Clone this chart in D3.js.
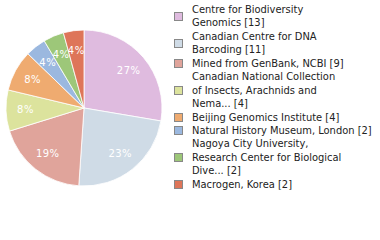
<!DOCTYPE html>
<html>
<head>
<meta charset="utf-8">
<script src="https://cdn.jsdelivr.net/npm/d3@7"></script>
<style>
  body { margin: 0; background: #fff; }
  svg { display: block; }
</style>
</head>
<body>
<svg width="380" height="240"></svg>
<script>
// data
var institutions = ["Centre for Biodiversity Genomics", "Canadian Centre for DNA Barcoding",
  "Mined from GenBank, NCBI", "Canadian National Collection of Insects, Arachnids and Nematodes",
  "Beijing Genomics Institute", "Natural History Museum, London",
  "Nagoya City University, Research Center for Biological Diversity", "Macrogen, Korea"];
var counts = [13, 11, 9, 4, 4, 2, 2, 2];
var legendLines = [
  ["Centre for Biodiversity", "Genomics [13]"],
  ["Canadian Centre for DNA", "Barcoding [11]"],
  ["Mined from GenBank, NCBI [9]"],
  ["Canadian National Collection", "of Insects, Arachnids and", "Nema... [4]"],
  ["Beijing Genomics Institute [4]"],
  ["Natural History Museum, London [2]"],
  ["Nagoya City University,", "Research Center for Biological", "Dive... [2]"],
  ["Macrogen, Korea [2]"]
];
var colors = ["#dfbbdf", "#cfdbe6", "#e0a49b", "#dce39d", "#efab70", "#9bb8df", "#9dc779", "#de7559"];

var svg = d3.select("svg");
var cx = 84, cy = 108, radius = 78;

var total = d3.sum(counts);
var color = d3.scaleOrdinal().domain(institutions).range(colors);

var pie = d3.pie().sort(null).value(function(d) { return d.count; });
var data = institutions.map(function(name, i) { return { name: name, count: counts[i], lines: legendLines[i] }; });
var arcs = pie(data);

var arc = d3.arc().innerRadius(0).outerRadius(radius);
var labelArc = d3.arc().innerRadius(radius * 0.75).outerRadius(radius * 0.75);

var g = svg.append("g").attr("transform", "translate(" + cx + "," + cy + ")");

g.selectAll("path")
  .data(arcs)
  .enter().append("path")
    .attr("d", arc)
    .attr("fill", function(d) { return color(d.data.name); })
    .attr("stroke", "#fff")
    .attr("stroke-width", 0.8);

// percent labels
g.selectAll("text")
  .data(arcs)
  .enter().append("text")
    .attr("transform", function(d) { return "translate(" + labelArc.centroid(d) + ")"; })
    .attr("dy", "0.35em")
    .attr("text-anchor", "middle")
    .attr("font-family", "DejaVu Sans")
    .attr("font-size", 10)
    .attr("letter-spacing", 0.5)
    .attr("fill", "#fff")
    .text(function(d) { return Math.floor(d.data.count / total * 100) + "%"; });

// legend
var lineH = 13.46;
var legend = svg.append("g").attr("transform", "translate(174,0)");
var y = 9;
data.forEach(function(d) {
  var n = d.lines.length;
  var mid = y + (n - 1) * lineH / 2;
  legend.append("rect")
    .attr("x", 0.5).attr("y", Math.round(mid - 4) + 0.5)
    .attr("width", 8).attr("height", 8)
    .attr("fill", color(d.name))
    .attr("stroke", "#888");
  d.lines.forEach(function(t, j) {
    legend.append("text")
      .attr("x", 18).attr("y", y + j * lineH)
      .attr("dy", "0.35em")
      .attr("font-family", "DejaVu Sans Condensed, DejaVu Sans")
      .attr("font-stretch", "condensed")
      .attr("font-size", 11)
      .attr("fill", "#222")
      .text(t);
  });
  y += n * lineH;
});
</script>
</body>
</html>
